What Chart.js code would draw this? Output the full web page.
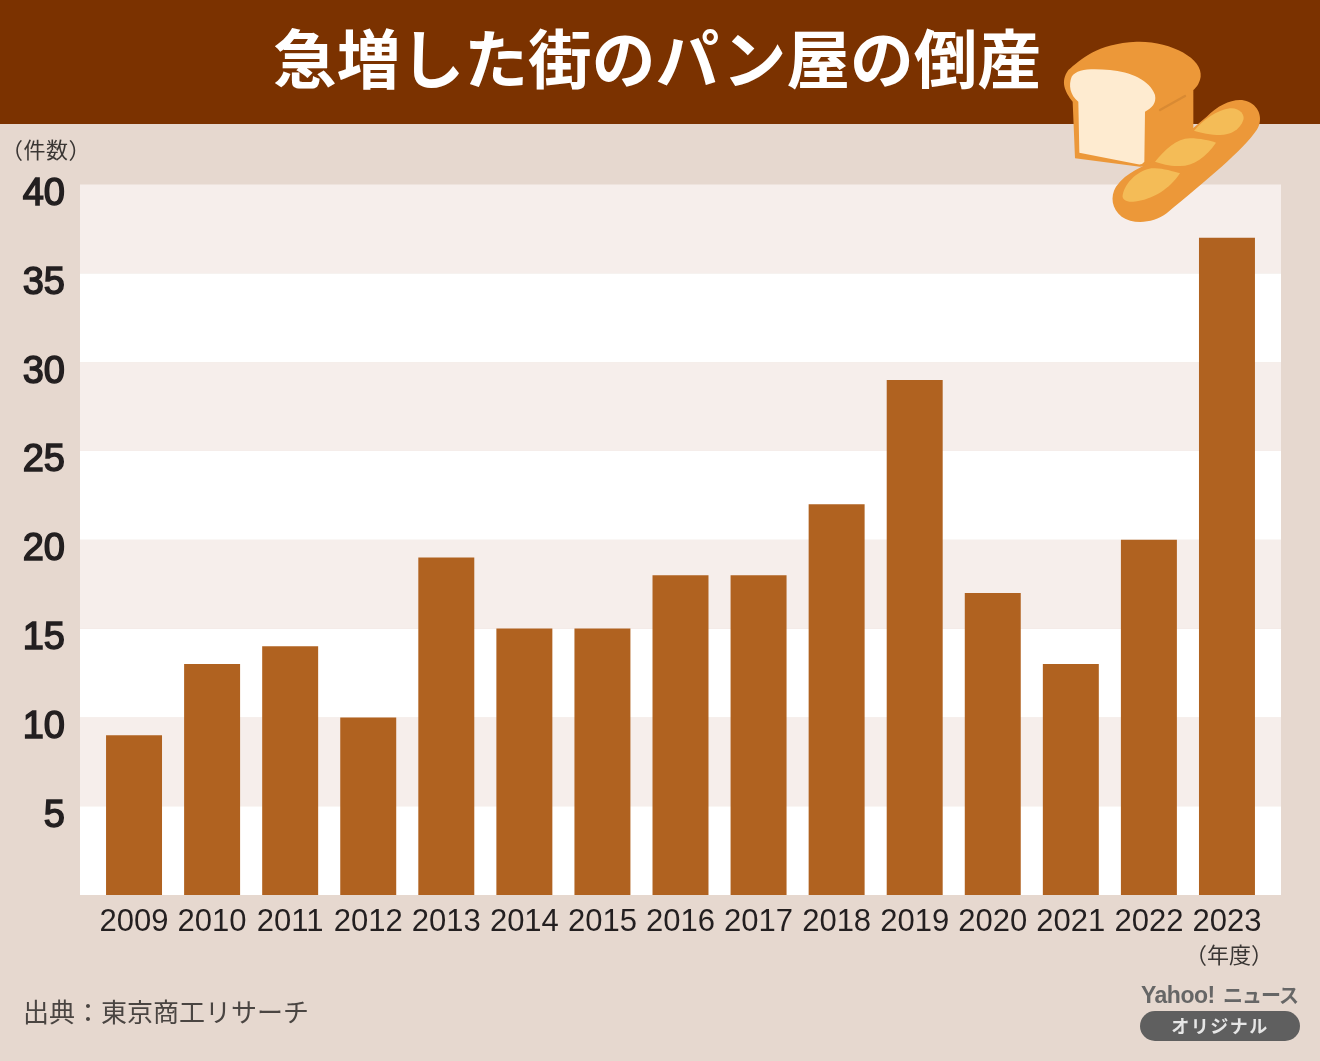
<!DOCTYPE html>
<html lang="ja">
<head>
<meta charset="utf-8">
<script src="https://cdn.jsdelivr.net/npm/chart.js@4"></script>
<style>
html,body{margin:0;padding:0;background:#E6D8CF;}
#wrap{position:relative;width:1320px;height:1061px;overflow:hidden;}
canvas{position:absolute;left:0;top:0;}
.t{position:absolute;white-space:nowrap;font-family:"Liberation Sans","Noto Sans CJK JP",sans-serif;color:#231F20;line-height:1;}
</style>
</head>
<body>
<div id="wrap">
<canvas id="c" width="1320" height="1061"></canvas>
<div class="t" id="title" style="left:273px;top:24px;font-size:63.75px;font-weight:700;color:#fff;font-family:'Noto Sans CJK JP'"></div>
<div class="t" style="left:1px;top:137px;font-size:22px;letter-spacing:0.5px;color:#3a3634;font-family:'Noto Sans CJK JP'">（件数）</div>
<div class="t" style="left:1185px;top:942px;font-size:22px;color:#3a3634;font-family:'Noto Sans CJK JP'">（年度）</div>
<div class="t" style="left:23px;top:998px;font-size:26px;color:#4a4542;font-family:'Noto Sans CJK JP'">出典：東京商工リサーチ</div>
<div class="t" style="left:1141px;top:984px;font-size:23px;font-weight:700;letter-spacing:-0.5px;color:#666;font-family:'Liberation Sans'">Yahoo!</div>
<div class="t" style="left:1223px;top:985px;font-size:20px;font-weight:700;letter-spacing:-1px;color:#666;font-family:'Noto Sans CJK JP'">ニュース</div>
<div class="t" style="left:1140px;top:1011px;width:160px;height:30px;line-height:29px;border-radius:15px;background:#5f5f5f;color:#E6E6E6;text-align:center;font-size:18px;font-weight:700;letter-spacing:1.5px;font-family:'Noto Sans CJK JP'">オリジナル</div>
</div>
<script>
const categories = ["2009","2010","2011","2012","2013","2014","2015","2016","2017","2018","2019","2020","2021","2022","2023"];
const bankruptcies = [9,13,14,10,19,15,15,18,18,22,29,17,13,20,37];
const chartTitle = "急増した街のパン屋の倒産";
document.getElementById("title").textContent = chartTitle;

const backdrop = {
  id: "backdrop",
  beforeDraw(chart) {
    const {ctx, chartArea: a, scales: {y}} = chart;
    ctx.save();
    ctx.fillStyle = "#E6D8CF";
    ctx.fillRect(0, 0, chart.width, chart.height);
    ctx.fillStyle = "#7B3200";
    ctx.fillRect(0, 0, chart.width, 124);
    const left = a.left - 15, w = a.right - a.left + 30;
    for (let v = 0; v < 40; v += 5) {
      const top = y.getPixelForValue(v + 5), bot = y.getPixelForValue(v);
      ctx.fillStyle = (v / 5) % 2 ? "#F6EEEB" : "#FFFFFF";
      ctx.fillRect(left, top, w, bot - top);
    }
    ctx.restore();
  }
};

const breadIcon = {
  id: "breadIcon",
  afterDatasetsDraw(chart) {
    const ctx = chart.ctx;
    const fill = (d, c) => { ctx.fillStyle = c; ctx.fill(new Path2D(d)); };
    ctx.save();
    ctx.translate(1040, 20);
    ctx.scale(1/3, 1/3);
    fill("M105 415 L98 245 C75 215 60 185 85 150 C120 120 170 70 290 65 C390 62 490 115 482 170 C478 195 465 205 460 210 L460 330 L340 435 L300 440 Z", "#EC9839");
    fill("M118 398 L115 245 C90 225 85 195 95 170 C110 145 160 145 210 150 C270 155 330 180 345 225 C350 250 335 265 315 275 L313 425 Q305 437 290 432 Z", "#FEEBD0");
    ctx.strokeStyle = "#D98A33"; ctx.lineWidth = 7; ctx.lineCap = "round";
    ctx.beginPath(); ctx.moveTo(360, 270); ctx.lineTo(435, 228); ctx.stroke();
    fill("M228 500 C260 455 310 440 345 420 L500 290 C540 250 590 230 625 245 C660 260 670 300 650 330 C610 390 500 480 380 580 C340 610 280 615 245 590 C215 565 210 530 228 500 Z", "#EC9839");
    fill("M248 525 C260 470 320 440 345 445 C370 445 400 455 420 460 C390 505 340 540 280 545 C262 547 245 540 248 525 Z", "#F4BC57");
    fill("M345 425 C375 390 410 355 450 355 C480 355 510 362 528 368 C500 410 460 438 420 438 C395 440 365 432 345 425 Z", "#F4BC57");
    fill("M462 332 C490 300 530 270 570 265 C600 263 615 285 610 300 C600 330 570 345 540 345 C515 345 480 338 462 332 Z", "#F4BC57");
    ctx.restore();
  }
};

new Chart(document.getElementById("c"), {
  type: "bar",
  data: {
    labels: categories,
    datasets: [{ data: bankruptcies, backgroundColor: "#B06220", borderWidth: 0, barPercentage: 0.717, categoryPercentage: 1 }]
  },
  plugins: [backdrop, breadIcon],
  options: {
    responsive: false,
    animation: false,
    devicePixelRatio: 1,
    layout: { padding: { left: 0, right: 54, top: 184.5, bottom: 0 } },
    plugins: {
      legend: { display: false },
      tooltip: { enabled: false },
      title: { display: false }
    },
    scales: {
      x: {
        grid: { display: false },
        border: { display: false },
        afterFit(s) { s.height = 166; },
        ticks: {
          color: "#231F20",
          font: { family: "'Liberation Sans'", size: 31 },
          maxRotation: 0,
          autoSkip: false,
          padding: 1
        }
      },
      y: {
        min: 0,
        max: 40,
        grid: { display: false },
        border: { display: false },
        afterFit(s) { s.width = 95; },
        afterBuildTicks(s) { s.ticks = s.ticks.filter(t => t.value % 5 === 0); },
        ticks: {
          stepSize: 5,
          color: "#231F20",
          font: { family: "'Liberation Sans'", size: 38 },
          textStrokeColor: "#231F20",
          textStrokeWidth: 1.5,
          labelOffset: 10,
          padding: 22,
          callback: v => v === 0 ? "" : String(v)
        }
      }
    }
  }
});
</script>
</body>
</html>
